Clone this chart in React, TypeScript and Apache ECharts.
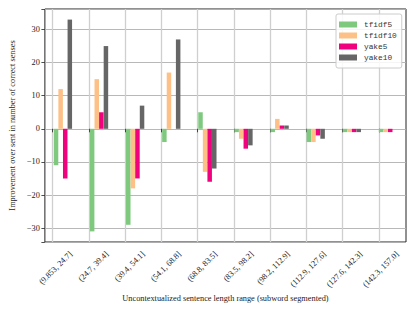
import React, { useEffect, useRef } from "react";
import * as echarts from "echarts";

const categories = [
  "(9.853, 24.7]",
  "(24.7, 39.4]",
  "(39.4, 54.1]",
  "(54.1, 68.8]",
  "(68.8, 83.5]",
  "(83.5, 98.2]",
  "(98.2, 112.9]",
  "(112.9, 127.6]",
  "(127.6, 142.3]",
  "(142.3, 157.0]",
];
const tfidf5 = [-11, -31, -29, -4, 5, -1, -1, -4, -1, -1];
const tfidf10 = [12, 15, -18, 17, -13, -3, 3, -4, -1, -1];
const yake5 = [-15, 5, -15, 0, -16, -6, 1, -2, -1, -1];
const yake10 = [33, 25, 7, 27, -12, -5, 1, -3, -1, 0];

const seriesNames = ["tfidf5", "tfidf10", "yake5", "yake10"];
const seriesColors = ["#7fc97f", "#fdc086", "#f0027f", "#666666"];
const seriesData = [tfidf5, tfidf10, yake5, yake10];

const SERIF = "Liberation Serif";
const MONO = "Liberation Mono";

export default function App() {
  const ref = useRef<HTMLDivElement>(null);
  useEffect(() => {
    if (!ref.current) return;
    const chart = echarts.init(ref.current, undefined, { renderer: "svg" });
    const top = 9;
    const bottom = 70;
    chart.setOption({
      animation: false,
      backgroundColor: "#ffffff",
      textStyle: { fontFamily: SERIF },
      grid: [
        { left: 43.3, right: 10, top, bottom, show: true, borderColor: "#222", borderWidth: 1, backgroundColor: "transparent" },
        { left: 52.7, right: 37, top, bottom },
        { left: 68, right: 21.5, top, bottom },
      ],
      xAxis: [
        {
          type: "category",
          gridIndex: 0,
          data: categories,
          boundaryGap: true,
          axisLine: { show: false },
          axisTick: { show: false },
          axisLabel: { show: false },
          splitLine: { show: false },
          name: "Uncontextualized sentence length range (subword segmented)",
          nameLocation: "middle",
          nameGap: 56,
          nameTextStyle: { fontFamily: SERIF, fontSize: 8.3, color: "#222", verticalAlign: "middle" },
        },
        {
          type: "category",
          gridIndex: 1,
          data: categories,
          boundaryGap: false,
          axisLine: { show: false },
          axisTick: { show: true, length: 3.5, lineStyle: { color: "#222", width: 0.8 }, interval: 0 },
          axisLabel: { show: false },
          splitLine: { show: true, interval: 0, lineStyle: { color: "#cfcfcf", width: 1.3 } },
        },
        {
          type: "category",
          gridIndex: 2,
          data: categories,
          boundaryGap: false,
          axisLine: { show: false },
          axisTick: { show: false },
          splitLine: { show: false },
          axisLabel: {
            show: true,
            interval: 0,
            rotate: 45,
            align: "right",
            verticalAlign: "top",
            margin: 8,
            fontFamily: SERIF,
            fontSize: 8.3,
            color: "#222",
          },
        },
      ],
      yAxis: [
        {
          type: "value",
          gridIndex: 0,
          min: -34.2,
          max: 36.2,
          splitNumber: 7,
          axisLine: { show: false },
          axisTick: { show: true, length: 3.5, lineStyle: { color: "#222", width: 0.8 } },
          axisLabel: {
            margin: 5,
            fontFamily: SERIF,
            fontSize: 8.3,
            color: "#222",
            formatter: (v: number) =>
              Math.abs(v % 10) < 1e-9 ? String(Math.round(v)).replace("-", "\u2212") : "",
          },
          splitLine: { show: true, lineStyle: { color: "#b0b0b0", width: 0.9 } },
          name: "Improvement over sent in number of correct senses",
          nameLocation: "middle",
          nameGap: 30,
          nameTextStyle: { fontFamily: SERIF, fontSize: 8.3, color: "#222", verticalAlign: "middle" },
        },
        { type: "value", gridIndex: 1, min: -34.2, max: 36.2, show: false, splitLine: { show: false } },
        { type: "value", gridIndex: 2, min: -34.2, max: 36.2, show: false, splitLine: { show: false } },
      ],
      legend: {
        orient: "vertical",
        left: 336,
        top: 14,
        padding: [5, 5, 5, 3],
        itemWidth: 18,
        itemHeight: 6,
        itemGap: 0,
        icon: "rect",
        backgroundColor: "rgba(255,255,255,0.85)",
        borderColor: "#cccccc",
        borderWidth: 1,
        borderRadius: 2,
        textStyle: { fontFamily: MONO, fontSize: 7.8, color: "#333", lineHeight: 11, padding: [0, 0, 0, 2] },
        data: seriesNames,
      },
      series: seriesNames.map((name, i) => ({
        name,
        type: "bar",
        xAxisIndex: 0,
        yAxisIndex: 0,
        data: seriesData[i],
        barWidth: 4.5,
        barGap: "2%",
        itemStyle: { color: seriesColors[i] },
      })),
    });
    return () => chart.dispose();
  }, []);
  return (
    <div
      ref={ref}
      style={{ position: "fixed", left: 0, top: 0, width: 416, height: 312 }}
    />
  );
}
